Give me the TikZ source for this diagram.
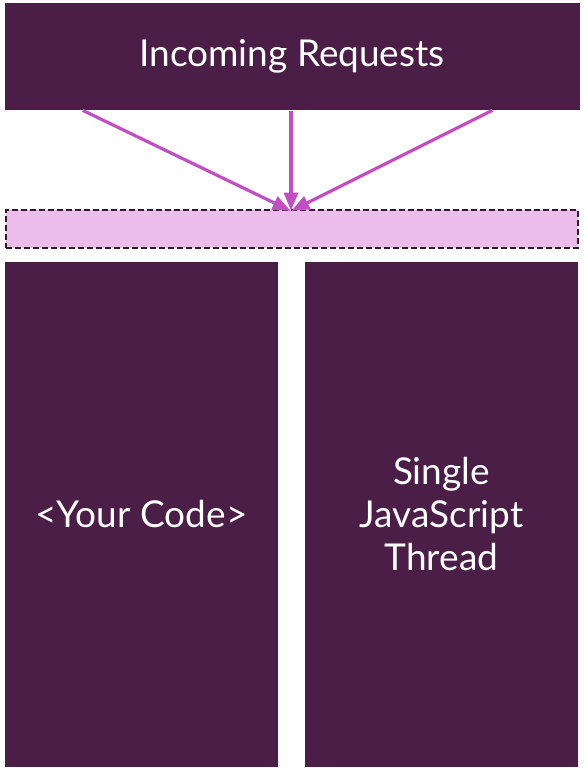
\documentclass[tikz,border=0pt]{standalone}
\usepackage{fontspec}
\setmainfont{Lato}
\usepackage{xcolor}
\usepackage{tikz}
\usetikzlibrary{arrows, positioning}

\definecolor{plum}{HTML}{4B1E47}
\definecolor{orchid}{HTML}{C24EC4}
\definecolor{blush}{HTML}{ECBDEA}

\begin{document}
\begin{tikzpicture}[x=1pt,y=-1pt]
\useasboundingbox (0,0) rectangle (585,771);
\tikzset{block/.style={fill=plum,draw=none,inner sep=0pt,text=white,font=\fontsize{37}{43}\selectfont,align=center}}
\node[block,minimum width=575pt,minimum height=107pt] (req) at (292,56.5) {Incoming Requests};
\node[fill=blush,draw=plum!70!black,dash pattern=on 6pt off 3pt,line width=2pt,inner sep=0pt,minimum width=572pt,minimum height=38pt] (queue) at (292,229) {};
\node[block,minimum width=273pt,minimum height=505pt] (code) at (141.5,514.5) {<Your Code>};
\node[block,minimum width=273pt,minimum height=505pt] (thread) at (441.5,514.5) {Single\\JavaScript\\Thread};
% arrows into the queue
\node[draw=none,inner sep=0pt,minimum size=1pt] (A) at (82,110) {};
\node[draw=none,inner sep=0pt,minimum size=1pt] (B) at (291,110) {};
\node[draw=none,inner sep=0pt,minimum size=1pt] (C) at (493,110) {};
\node[draw=none,inner sep=0pt,minimum size=1pt] (T) at (291,211) {};
\draw[-triangle 45,line width=3.2pt,color=orchid] (A)--(T);
\draw[-triangle 45,line width=3.2pt,color=orchid] (B)--(T);
\draw[-triangle 45,line width=3.2pt,color=orchid] (C)--(T);
\end{tikzpicture}
\end{document}
